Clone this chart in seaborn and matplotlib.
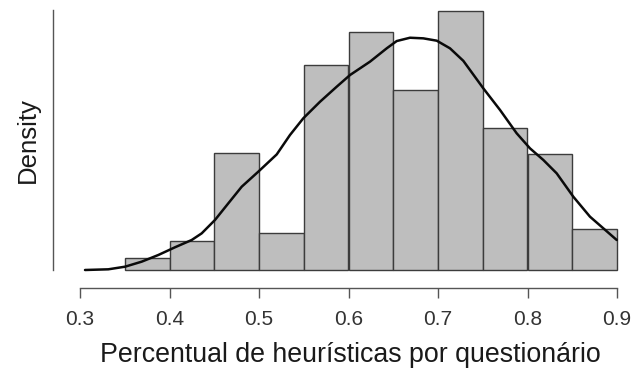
import numpy as np
import pandas as pd
import seaborn as sns
import matplotlib
matplotlib.use("Agg")
import matplotlib.pyplot as plt

# Histogram bins and density heights
bin_edges = [0.35, 0.40, 0.45, 0.50, 0.55, 0.60, 0.65, 0.70, 0.75, 0.80, 0.85, 0.90]
densities = [0.17, 0.42, 1.70, 0.54, 2.98, 3.46, 2.62, 3.76, 2.06, 1.69, 0.60]

# Density curve points
kde_x = [0.3056, 0.3316, 0.3503, 0.3689, 0.3875, 0.4061, 0.4248, 0.4360, 0.4508,
         0.4657, 0.4807, 0.4992, 0.5198, 0.5346, 0.5495, 0.5682, 0.5868, 0.6017,
         0.6240, 0.6427, 0.6539, 0.6687, 0.6836, 0.6986, 0.7134, 0.7283, 0.7506,
         0.7693, 0.7879, 0.8028, 0.8177, 0.8326, 0.8512, 0.8698, 0.8997]
kde_y = [0.000, 0.010, 0.048, 0.121, 0.218, 0.330, 0.436, 0.533, 0.727,
         0.969, 1.211, 1.429, 1.680, 1.962, 2.205, 2.446, 2.664, 2.834,
         3.028, 3.222, 3.328, 3.376, 3.367, 3.333, 3.222, 3.040, 2.641,
         2.326, 1.987, 1.768, 1.599, 1.405, 1.065, 0.775, 0.436]

xticks = [0.3, 0.4, 0.5, 0.6, 0.7, 0.8, 0.9]
xlabel = "Percentual de heurísticas por questionário"
ylabel = "Density"

sns.set_style("white")
plt.rcParams['font.family'] = ['Liberation Sans', 'DejaVu Sans']

W, H = 636, 372
fig = plt.figure(figsize=(W / 100, H / 100), dpi=100)
px_per_unit_x = 895.0
x0_px = 80.0
left_px, right_px = 53.0, 636.0
bottom_px, top_px = 288.0, 5.0
ax = fig.add_axes([left_px / W, (H - bottom_px) / H,
                   (right_px - left_px) / W, (bottom_px - top_px) / H])

px_per_unit_y = 68.8
base_px = 270.0
ax.set_xlim(0.3 + (left_px - x0_px) / px_per_unit_x, 0.3 + (right_px - x0_px) / px_per_unit_x)
ax.set_ylim(-(bottom_px - base_px) / px_per_unit_y, (base_px - top_px) / px_per_unit_y)

centers = [(a + b) / 2 for a, b in zip(bin_edges[:-1], bin_edges[1:])]
df = pd.DataFrame({"x": centers, "w": densities})
sns.histplot(data=df, x="x", weights="w", bins=bin_edges, stat="count",
             color="#bebebe", edgecolor="#3c3c3c", linewidth=1.0, alpha=1.0, ax=ax)

kd = pd.DataFrame({"x": kde_x, "y": kde_y})
sns.lineplot(data=kd, x="x", y="y", color="#0a0a0a", linewidth=1.8, ax=ax)

for s in ["top", "right"]:
    ax.spines[s].set_visible(False)
ax.spines["left"].set_bounds(0, (base_px - 10) / px_per_unit_y)
ax.spines["left"].set_color("#555555")
ax.spines["left"].set_linewidth(1.0)
ax.spines["bottom"].set_bounds(0.3, 0.9)
ax.spines["bottom"].set_color("#555555")
ax.spines["bottom"].set_linewidth(1.0)

ax.set_yticks([])
ax.set_xticks(xticks)
ax.set_xticklabels([f"{t:.1f}" for t in xticks], fontsize=15, color="#333333")
ax.tick_params(axis="x", direction="out", length=7.5, width=1.0, color="#555555",
               pad=8, bottom=True)

ax.set_xlabel("")
ax.set_ylabel("")
fig.text(350 / W, (H - 362) / H, xlabel, ha="center", va="baseline",
         fontsize=19.3, color="#1a1a1a")
fig.text(28 / W, (H - 140) / H, ylabel, ha="center", va="center",
         rotation=90, fontsize=18.5, color="#1a1a1a")

fig.savefig("out.png", dpi=100)
